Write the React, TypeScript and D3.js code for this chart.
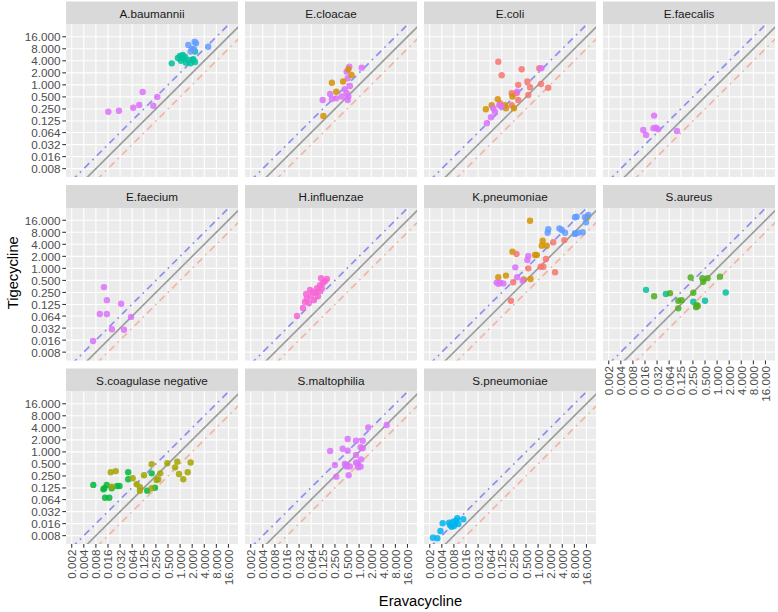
import React from "react";
import * as d3 from "d3";

const organisms = [
  "A.baumannii", "E.cloacae", "E.coli", "E.faecalis",
  "E.faecium", "H.influenzae", "K.pneumoniae", "S.aureus",
  "S.coagulase negative", "S.maltophilia", "S.pneumoniae",
];

const xBreaks = [0.002, 0.004, 0.008, 0.016, 0.032, 0.064, 0.125, 0.25, 0.5, 1, 2, 4, 8, 16];
const yBreaks = [0.008, 0.016, 0.032, 0.064, 0.125, 0.25, 0.5, 1, 2, 4, 8, 16];

const groupNames = ["red", "orange", "olive", "green", "sagreen", "teal", "cyan", "blue", "magenta", "pink"];
const groupColors = ["#F8766D", "#D39200", "#A3A500", "#00BA38", "#4FAE1C", "#00C19F", "#00B4EF", "#619CFF", "#DB72FB", "#F665D6"];

// reference lines: Tigecycline = k * Eravacycline
const refRatios = [1, 2, 0.5];

type P = [number, number, string];

const aBaumannii: P[] = [
  [0.0163, 0.213, "magenta"], [0.030, 0.225, "magenta"], [0.068, 0.268, "magenta"], [0.096, 0.314, "magenta"],
  [0.117, 0.665, "magenta"], [0.215, 0.30, "magenta"], [0.27, 0.50, "magenta"],
  [0.62, 3.46, "teal"], [0.88, 4.7, "teal"], [0.99, 5.3, "teal"], [1.16, 5.6, "teal"], [1.32, 5.06, "teal"],
  [1.6, 4.2, "teal"], [1.83, 3.46, "teal"], [2.05, 4.2, "teal"], [2.13, 4.4, "teal"], [2.35, 3.73, "teal"],
  [1.05, 4.0, "teal"], [1.4, 3.6, "teal"], [2.35, 6.8, "teal"], [1.2, 4.6, "teal"],
  [1.6, 10, "blue"], [1.83, 6.8, "blue"], [2.48, 11, "blue"], [2.22, 7.8, "blue"], [2.3, 12, "blue"],
  [5.0, 9.0, "blue"], [1.95, 8.0, "blue"],
];

const eCloacae: P[] = [
  [0.57, 2.85, "magenta"], [0.49, 2.14, "magenta"], [0.52, 1.46, "magenta"], [0.59, 0.94, "magenta"],
  [0.44, 0.78, "magenta"], [0.49, 0.62, "magenta"], [0.54, 0.51, "magenta"], [0.37, 0.51, "magenta"],
  [0.27, 0.46, "magenta"], [0.21, 0.44, "magenta"], [0.19, 0.59, "magenta"], [0.124, 0.42, "magenta"],
  [1.16, 2.7, "magenta"], [0.52, 0.42, "magenta"],
  [0.54, 2.46, "orange"], [0.65, 1.77, "orange"], [0.40, 1.21, "orange"], [0.21, 1.13, "orange"],
  [0.27, 0.67, "orange"], [0.129, 0.166, "orange"],
];

const eColi: P[] = [
  [0.102, 3.8, "red"], [0.124, 1.74, "red"], [0.39, 2.46, "red"], [1.07, 2.6, "red"], [0.32, 1.0, "red"],
  [0.54, 1.21, "red"], [0.63, 0.87, "red"], [1.18, 1.05, "red"], [1.79, 0.85, "red"], [0.22, 0.62, "red"],
  [0.29, 0.62, "red"], [0.32, 0.42, "red"], [0.57, 0.56, "red"], [0.22, 0.31, "red"], [0.113, 0.35, "red"],
  [0.099, 0.44, "orange"], [0.070, 0.31, "orange"], [0.050, 0.245, "orange"], [0.15, 0.31, "orange"],
  [0.23, 0.51, "orange"], [0.25, 0.26, "orange"], [0.158, 0.26, "orange"],
  [0.076, 0.26, "magenta"], [0.067, 0.155, "magenta"], [0.053, 0.11, "magenta"], [0.084, 0.213, "magenta"],
  [0.108, 0.31, "magenta"], [0.124, 0.285, "magenta"], [0.30, 0.67, "magenta"], [1.2, 2.6, "magenta"],
];

const eFaecalis: P[] = [
  [0.027, 0.17, "magenta"], [0.0145, 0.074, "magenta"], [0.017, 0.056, "magenta"], [0.026, 0.082, "magenta"],
  [0.030, 0.085, "magenta"], [0.034, 0.077, "magenta"], [0.10, 0.070, "magenta"],
];

const eFaecium: P[] = [
  [0.0127, 0.34, "magenta"], [0.015, 0.16, "magenta"], [0.010, 0.072, "magenta"], [0.015, 0.072, "magenta"],
  [0.034, 0.13, "magenta"], [0.020, 0.030, "magenta"], [0.040, 0.029, "magenta"], [0.060, 0.061, "magenta"],
  [0.0068, 0.0152, "magenta"],
];

const hInfluenzae: P[] = [
  [0.0284, 0.064, "pink"], [0.040, 0.102, "pink"], [0.045, 0.145, "pink"], [0.050, 0.18, "pink"],
  [0.056, 0.136, "pink"], [0.063, 0.20, "pink"], [0.071, 0.26, "pink"], [0.075, 0.16, "pink"],
  [0.084, 0.24, "pink"], [0.090, 0.32, "pink"], [0.10, 0.27, "pink"], [0.106, 0.38, "pink"],
  [0.119, 0.31, "pink"], [0.126, 0.43, "pink"], [0.142, 0.48, "pink"], [0.158, 0.54, "pink"],
  [0.060, 0.29, "pink"], [0.048, 0.23, "pink"], [0.095, 0.20, "pink"], [0.113, 0.57, "pink"],
];

const kPneumoniae: P[] = [
  [0.63, 15.5, "orange"], [1.30, 4.9, "orange"], [1.23, 3.7, "orange"], [1.64, 3.7, "orange"],
  [0.84, 2.16, "orange"], [0.92, 2.16, "orange"], [0.23, 2.62, "orange"], [0.102, 0.60, "orange"],
  [0.158, 0.66, "orange"], [0.44, 0.53, "orange"], [0.65, 0.54, "orange"], [16.8, 19, "orange"],
  [0.29, 2.3, "red"], [1.57, 1.72, "red"], [1.16, 1.10, "red"], [1.35, 1.10, "red"], [0.57, 1.0, "red"],
  [2.64, 0.80, "red"], [0.24, 0.45, "red"], [0.21, 0.155, "red"], [4.5, 5.1, "red"], [2.38, 4.5, "red"],
  [0.57, 2.04, "magenta"], [0.54, 1.62, "magenta"], [0.27, 1.06, "magenta"], [0.30, 0.60, "magenta"],
  [0.093, 0.44, "magenta"], [0.113, 0.44, "magenta"], [0.136, 0.42, "magenta"], [0.41, 0.49, "magenta"],
  [0.103, 0.41, "magenta"],
  [1.79, 9.5, "blue"], [1.73, 7.8, "blue"], [3.4, 10, "blue"], [3.9, 9.1, "blue"], [4.7, 7.8, "blue"],
  [8.3, 7.6, "blue"], [9.1, 19.7, "blue"], [10, 7.8, "blue"], [8.3, 19, "blue"], [14.7, 19, "blue"],
  [17.8, 21.7, "blue"], [15.6, 14.2, "blue"], [8.3, 7.3, "blue"], [12.9, 8.0, "blue"],
];

const sAureus: P[] = [
  [0.017, 0.29, "teal"], [0.053, 0.23, "teal"], [1.64, 0.25, "teal"], [0.255, 0.147, "teal"], [0.50, 0.155, "teal"],
  [0.027, 0.20, "sagreen"], [0.067, 0.24, "sagreen"], [0.22, 0.59, "sagreen"], [0.43, 0.57, "sagreen"],
  [0.58, 0.57, "sagreen"], [1.18, 0.62, "sagreen"], [0.45, 0.46, "sagreen"], [0.255, 0.246, "sagreen"],
  [0.108, 0.155, "sagreen"], [0.131, 0.16, "sagreen"], [0.108, 0.10, "sagreen"], [0.31, 0.12, "sagreen"],
  [0.30, 0.107, "sagreen"], [0.33, 0.114, "sagreen"],
];

const sCoagNeg: P[] = [
  [0.0069, 0.149, "green"], [0.013, 0.123, "green"], [0.0149, 0.149, "green"], [0.0198, 0.123, "green"],
  [0.027, 0.14, "green"], [0.031, 0.14, "green"], [0.0135, 0.071, "green"], [0.0172, 0.071, "green"],
  [0.051, 0.31, "green"], [0.051, 0.206, "green"], [0.196, 0.29, "green"], [0.237, 0.127, "green"],
  [0.152, 0.107, "green"], [0.0123, 0.116, "green"],
  [0.0188, 0.31, "olive"], [0.025, 0.33, "olive"], [0.0198, 0.135, "olive"], [0.066, 0.218, "olive"],
  [0.083, 0.155, "olive"], [0.10, 0.13, "olive"], [0.10, 0.107, "olive"], [0.126, 0.26, "olive"],
  [0.196, 0.49, "olive"], [0.196, 0.123, "olive"], [0.26, 0.198, "olive"], [0.285, 0.206, "olive"],
  [0.32, 0.29, "olive"], [0.48, 0.52, "olive"], [0.75, 0.41, "olive"], [0.85, 0.57, "olive"],
  [0.94, 0.28, "olive"], [1.2, 0.206, "olive"], [1.55, 0.31, "olive"], [1.83, 0.54, "olive"],
];

const sMaltophilia: P[] = [
  [1.69, 4.1, "magenta"], [4.86, 4.7, "magenta"], [0.52, 2.1, "magenta"], [0.84, 1.9, "magenta"],
  [1.23, 1.9, "magenta"], [0.19, 1.05, "magenta"], [0.39, 1.2, "magenta"], [0.52, 1.07, "magenta"],
  [1.09, 1.3, "magenta"], [1.23, 1.23, "magenta"], [0.84, 0.84, "magenta"], [0.25, 0.47, "magenta"],
  [0.44, 0.50, "magenta"], [0.49, 0.43, "magenta"], [0.59, 0.43, "magenta"], [0.84, 0.54, "magenta"],
  [0.92, 0.50, "magenta"], [1.12, 0.65, "magenta"], [1.09, 0.43, "magenta"], [0.27, 0.24, "magenta"],
  [0.55, 0.26, "magenta"], [0.49, 0.47, "magenta"], [0.95, 0.41, "magenta"],
];

const sPneumoniae: P[] = [
  [0.0024, 0.0071, "cyan"], [0.0031, 0.0069, "cyan"], [0.0037, 0.0105, "cyan"], [0.0042, 0.0163, "cyan"],
  [0.0061, 0.0168, "cyan"], [0.0070, 0.0134, "cyan"], [0.0077, 0.018, "cyan"], [0.0090, 0.019, "cyan"],
  [0.0097, 0.0218, "cyan"], [0.0137, 0.0206, "cyan"], [0.0080, 0.014, "cyan"], [0.0103, 0.0157, "cyan"],
  [0.0064, 0.0148, "cyan"], [0.0085, 0.0157, "cyan"],
];

const pointsByOrganism: P[][] = [
  aBaumannii, eCloacae, eColi, eFaecalis, eFaecium, hInfluenzae,
  kPneumoniae, sAureus, sCoagNeg, sMaltophilia, sPneumoniae,
];

const W = 778;
const H = 612;
const PANEL_X0 = 66;
const PANEL_DX = 179;
const PANEL_W = 172;
const STRIP_Y0 = 1.5;
const PANEL_DY = 183.5;
const STRIP_H = 23;
const PANEL_H = 152.5;
const X_DOMAIN = [Math.pow(2, -9.44), Math.pow(2, 4.79)];
const Y_DOMAIN = [Math.pow(2, -7.66), Math.pow(2, 5.02)];
const FONT = "'Liberation Sans', Arial, sans-serif";
const fmt = d3.format(".3f");
const color = d3.scaleOrdinal<string, string>().domain(groupNames).range(groupColors);

export default function App() {
  const nCols = 4;
  const panels = organisms.map((name, i) => {
    const c = i % nCols;
    const r = Math.floor(i / nCols);
    const left = PANEL_X0 + c * PANEL_DX;
    const stripTop = STRIP_Y0 + r * PANEL_DY;
    const top = stripTop + STRIP_H;
    const x = d3.scaleLog().base(2).domain(X_DOMAIN).range([left, left + PANEL_W]);
    const y = d3.scaleLog().base(2).domain(Y_DOMAIN).range([top + PANEL_H, top]);
    const showY = c === 0;
    const showX = i + nCols >= organisms.length;
    const lineX = [X_DOMAIN[0] / 8, X_DOMAIN[1] * 8];
    const clipId = `clip${i}`;
    return (
      <g key={name}>
        <defs>
          <clipPath id={clipId}>
            <rect x={left} y={top} width={PANEL_W} height={PANEL_H} />
          </clipPath>
        </defs>
        <rect x={left} y={stripTop} width={PANEL_W} height={STRIP_H} fill="#D9D9D9" />
        <text x={left + PANEL_W / 2} y={stripTop + STRIP_H / 2} textAnchor="middle" dominantBaseline="central"
          fontSize={11.7} fill="#1A1A1A" fontFamily={FONT}>{name}</text>
        <rect x={left} y={top} width={PANEL_W} height={PANEL_H} fill="#EBEBEB" />
        {xBreaks.map((b) => (
          <line key={"gx" + b} x1={x(b)} x2={x(b)} y1={top} y2={top + PANEL_H} stroke="#FFFFFF" strokeWidth={1.07} />
        ))}
        {yBreaks.map((b) => (
          <line key={"gy" + b} x1={left} x2={left + PANEL_W} y1={y(b)} y2={y(b)} stroke="#FFFFFF" strokeWidth={1.07} />
        ))}
        <g clipPath={`url(#${clipId})`}>
          <line x1={x(lineX[0])} y1={y(lineX[0] * refRatios[0])} x2={x(lineX[1])} y2={y(lineX[1] * refRatios[0])}
            stroke="#9E9E9E" strokeWidth={1.7} />
          <line x1={x(lineX[0])} y1={y(lineX[0] * refRatios[1])} x2={x(lineX[1])} y2={y(lineX[1] * refRatios[1])}
            stroke="#8E8EF0" strokeWidth={1.7} strokeDasharray="1.7 4.5 7 4.5" />
          <line x1={x(lineX[0])} y1={y(lineX[0] * refRatios[2])} x2={x(lineX[1])} y2={y(lineX[1] * refRatios[2])}
            stroke="#F3B5A2" strokeWidth={1.7} strokeDasharray="1.7 4.5 7 4.5" />
          {pointsByOrganism[i].map((p, j) => (
            <circle key={j} cx={x(p[0])} cy={y(p[1])} r={3.2} fill={color(p[2])} fillOpacity={0.85} />
          ))}
        </g>
        {showY && (
          <g>
            {yBreaks.map((b) => (
              <g key={"ty" + b}>
                <line x1={left - 3.7} x2={left} y1={y(b)} y2={y(b)} stroke="#333333" strokeWidth={1.07} />
                <text x={left - 5.5} y={y(b)} textAnchor="end" dominantBaseline="central" fontSize={11.7}
                  fill="#4D4D4D" fontFamily={FONT}>{fmt(b)}</text>
              </g>
            ))}
          </g>
        )}
        {showX && (
          <g>
            {xBreaks.map((b) => (
              <g key={"tx" + b}>
                <line x1={x(b)} x2={x(b)} y1={top + PANEL_H} y2={top + PANEL_H + 3.7} stroke="#333333" strokeWidth={1.07} />
                <text transform={`translate(${x(b)},${top + PANEL_H + 5.5}) rotate(-90)`} textAnchor="end"
                  dominantBaseline="central" fontSize={11.7} fill="#4D4D4D" fontFamily={FONT}>{fmt(b)}</text>
              </g>
            ))}
          </g>
        )}
      </g>
    );
  });

  return (
    <svg width={W} height={H} style={{ position: "absolute", left: 0, top: 0, background: "#FFFFFF" }}>
      <rect x={0} y={0} width={W} height={H} fill="#FFFFFF" />
      {panels}
      <text x={PANEL_X0 + (3 * PANEL_DX + PANEL_W) / 2} y={601} textAnchor="middle" dominantBaseline="central"
        fontSize={14.7} fill="#000000" fontFamily={FONT}>Eravacycline</text>
      <text transform={`translate(13,${STRIP_Y0 + (2 * PANEL_DY + STRIP_H + PANEL_H) / 2}) rotate(-90)`}
        textAnchor="middle" dominantBaseline="central" fontSize={14.7} fill="#000000" fontFamily={FONT}>Tigecycline</text>
    </svg>
  );
}
